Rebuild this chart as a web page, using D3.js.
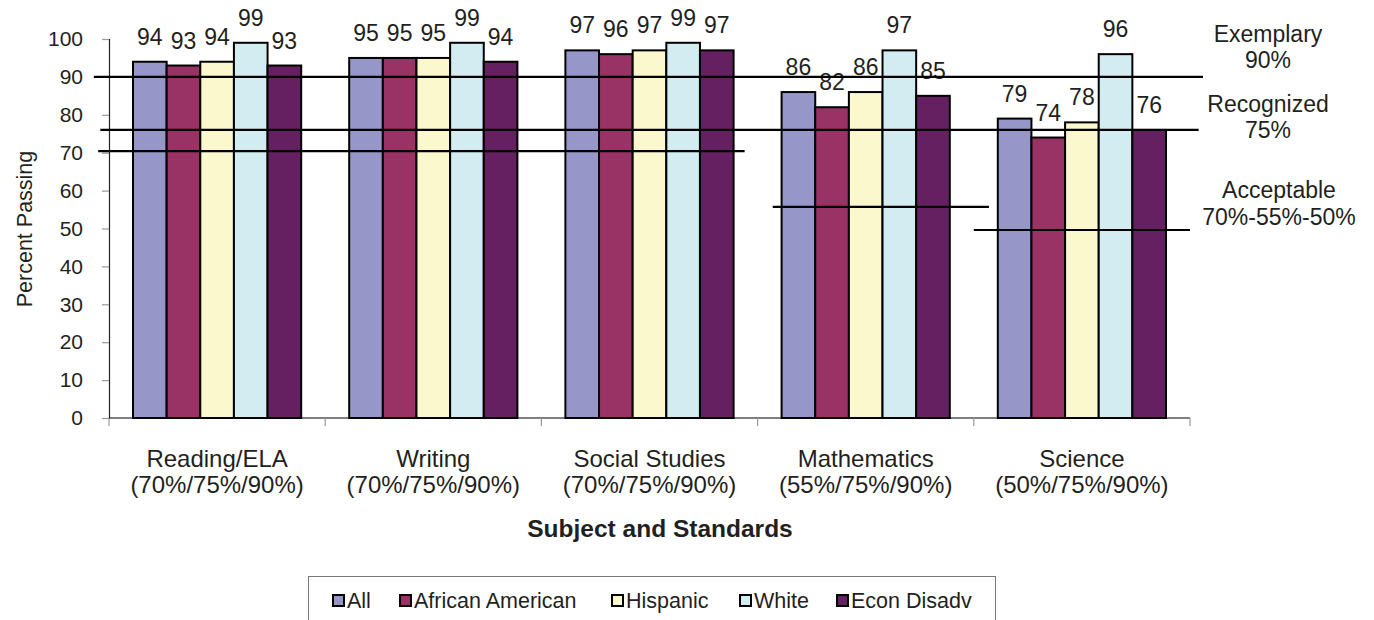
<!DOCTYPE html>
<html><head><meta charset="utf-8">
<script src="https://cdn.jsdelivr.net/npm/d3@7"></script>
<style>body{margin:0;background:#fff}text{font-family:"Liberation Sans",Arial,sans-serif;fill:#231f20}</style>
</head><body><svg id="c" width="1374" height="620"></svg>
<script>
const categories = ["Reading/ELA", "Writing", "Social Studies", "Mathematics", "Science"];
const standards = ["(70%/75%/90%)", "(70%/75%/90%)", "(70%/75%/90%)", "(55%/75%/90%)", "(50%/75%/90%)"];
const seriesNames = ["All", "African American", "Hispanic", "White", "Econ Disadv"];
const seriesColors = ["#9696c9", "#993366", "#fbf8cd", "#d3ecf2", "#642061"];
const allVals = [94, 95, 97, 86, 79];
const africanAmerican = [93, 95, 96, 82, 74];
const hispanic = [94, 95, 97, 86, 78];
const white = [99, 99, 99, 97, 96];
const econDisadv = [93, 94, 97, 85, 76];
const yTicks = [0, 10, 20, 30, 40, 50, 60, 70, 80, 90, 100];
// standard reference lines: value, start category index (fractional), end
const refLines = [
  {v: 90, from: -0.07, to: 5.06},
  {v: 76, from: -0.04, to: 5.04},
  {v: 70.4, from: -0.05, to: 2.94},
  {v: 55.7, from: 3.07, to: 4.07},
  {v: 49.6, from: 4.0, to: 5.0}
];
const refLabels = [["Exemplary", "90%"], ["Recognized", "75%"], ["Acceptable", "70%-55%-50%"]];

const data = [allVals, africanAmerican, hispanic, white, econDisadv];
const svg = d3.select("#c");
const mLeft = 109, mRight = 1190, mTop = 39, mBottom = 418;
const x0 = d3.scaleBand().domain(categories).range([mLeft, mRight]).padding(0);
const x1 = d3.scaleBand().domain(seriesNames).range([x0.bandwidth() * 0.111, x0.bandwidth() * 0.889]).padding(0);
const y = d3.scaleLinear().domain([0, 100]).range([mBottom, mTop]);
const xr = d3.scaleLinear().domain([0, 5]).range([mLeft, mRight]);

// y axis
const ya = svg.append("g").attr("transform", `translate(${mLeft},0)`)
  .call(d3.axisLeft(y).tickValues(yTicks).tickSize(7).tickPadding(19));
ya.select(".domain").attr("stroke", "#222").attr("stroke-width", 1.2);
ya.selectAll(".tick line").attr("stroke", "#999").attr("stroke-width", 1.2);
ya.selectAll("text").attr("font-size", 21).style("font-family", "Liberation Sans, Arial").attr("fill", "#231f20");

// bars
categories.forEach((c, ci) => {
  const g = svg.append("g").attr("transform", `translate(${x0(c)},0)`);
  seriesNames.forEach((s, si) => {
    const v = data[si][ci];
    g.append("rect").attr("x", x1(s)).attr("y", y(v)).attr("width", x1.bandwidth()).attr("height", y(0) - y(v))
      .attr("fill", seriesColors[si]).attr("stroke", "#000").attr("stroke-width", 2);
    g.append("text").attr("x", x1(s) + x1.bandwidth() / 2).attr("y", y(v) - 17)
      .attr("text-anchor", "middle").attr("font-size", 23).text(v);
  });
});

// x axis
svg.append("line").attr("x1", mLeft).attr("x2", mRight).attr("y1", mBottom).attr("y2", mBottom).attr("stroke", "#000").attr("stroke-width", 1.2);
d3.range(6).forEach(i => {
  svg.append("line").attr("x1", xr(i)).attr("x2", xr(i)).attr("y1", mBottom).attr("y2", mBottom + 8).attr("stroke", "#999").attr("stroke-width", 1.2);
});
categories.forEach((c, ci) => {
  const cx = x0(c) + x0.bandwidth() / 2;
  svg.append("text").attr("x", cx).attr("y", 467).attr("text-anchor", "middle").attr("font-size", 24).text(c);
  svg.append("text").attr("x", cx).attr("y", 493).attr("text-anchor", "middle").attr("font-size", 24).text(standards[ci]);
});

// reference lines
refLines.forEach(r => {
  svg.append("line").attr("x1", xr(r.from)).attr("x2", xr(r.to)).attr("y1", y(r.v)).attr("y2", y(r.v))
    .attr("stroke", "#000").attr("stroke-width", 2.2);
});
const labelPos = [[1268, 42, 68], [1268, 112, 138], [1279, 198, 225]];
refLabels.forEach((l, i) => {
  svg.append("text").attr("x", labelPos[i][0]).attr("y", labelPos[i][1]).attr("text-anchor", "middle").attr("font-size", 23).text(l[0]);
  svg.append("text").attr("x", labelPos[i][0]).attr("y", labelPos[i][2]).attr("text-anchor", "middle").attr("font-size", 23).text(l[1]);
});

// axis titles
svg.append("text").attr("transform", "translate(32,229) rotate(-90)").attr("text-anchor", "middle").attr("font-size", 21.5).text("Percent Passing");
svg.append("text").attr("x", 660).attr("y", 537).attr("text-anchor", "middle").attr("font-size", 24.5).attr("font-weight", "bold").text("Subject and Standards");

// legend
svg.append("rect").attr("x", 308.5).attr("y", 576.5).attr("width", 687).attr("height", 60).attr("fill", "none").attr("stroke", "#777").attr("stroke-width", 1);
const legX = [333, 400, 612, 740, 837];
seriesNames.forEach((s, i) => {
  svg.append("rect").attr("x", legX[i]).attr("y", 595).attr("width", 11).attr("height", 11)
    .attr("fill", seriesColors[i]).attr("stroke", "#000").attr("stroke-width", 2);
  svg.append("text").attr("x", legX[i] + 14).attr("y", 608).attr("font-size", 21.5).text(s);
});
</script></body></html>
